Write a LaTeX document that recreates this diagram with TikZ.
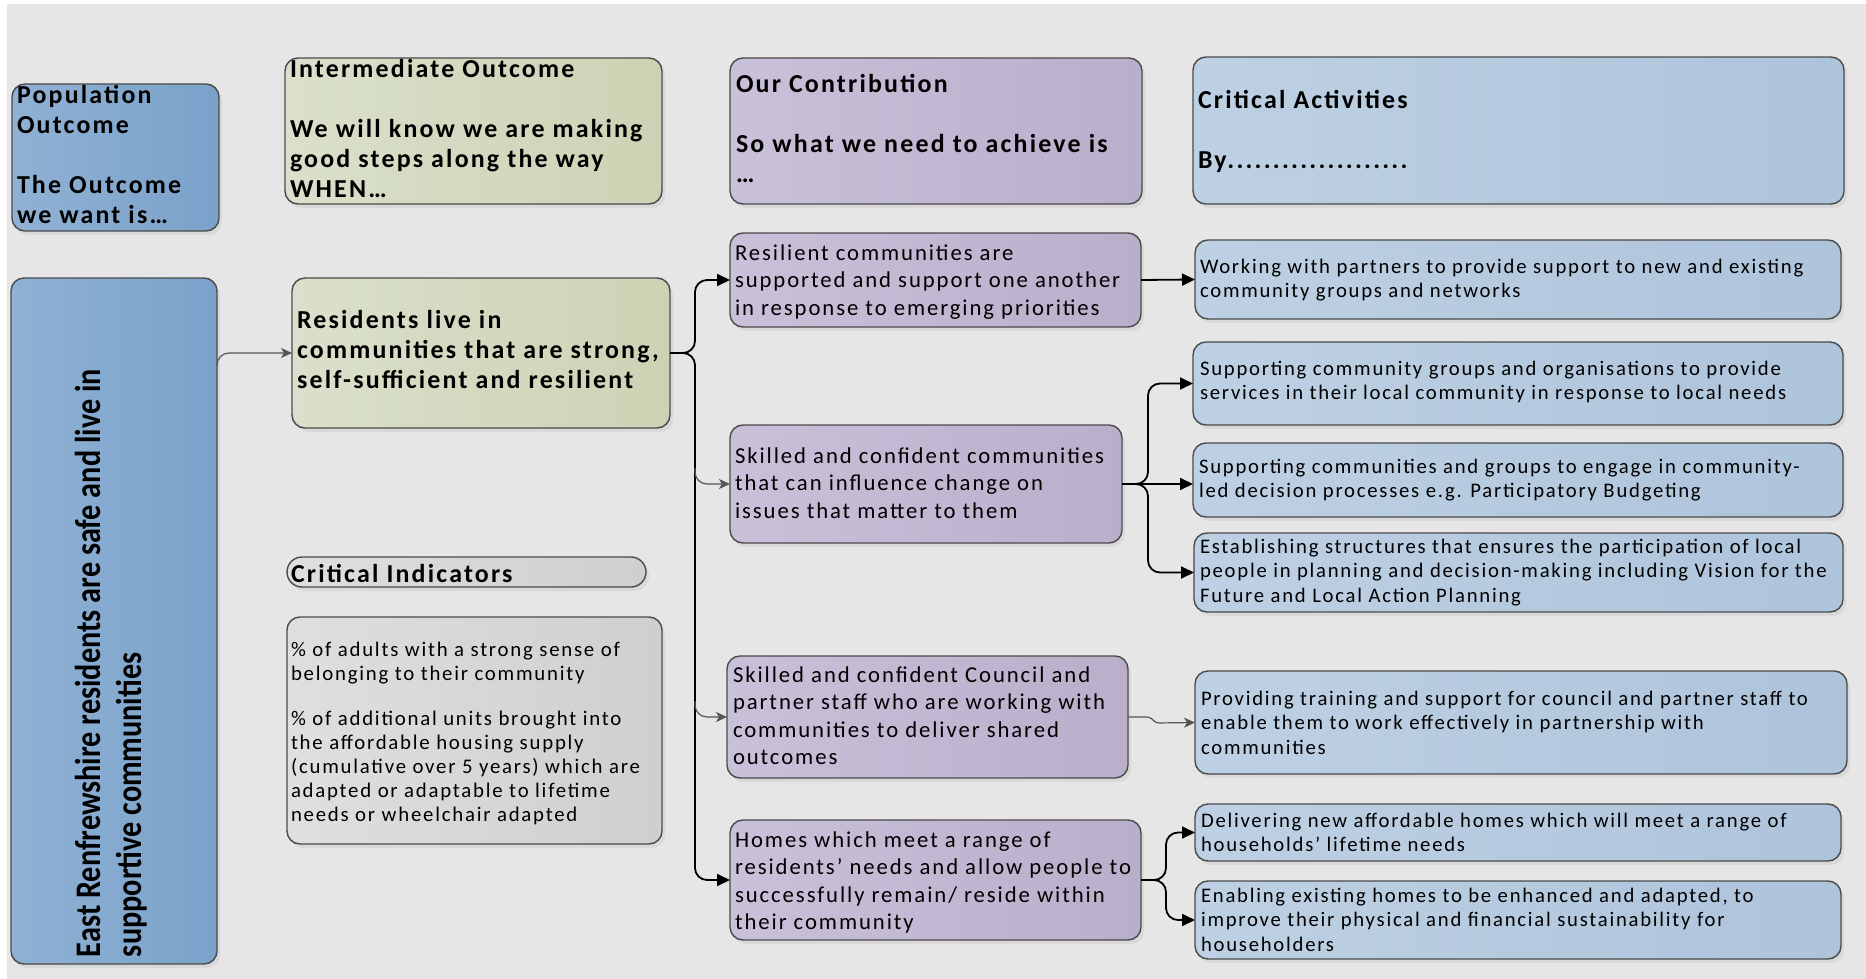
\documentclass[tikz,border=0pt]{standalone}
\usepackage{fontspec}
\usepackage{graphicx}
\setmainfont{Carlito}[LetterSpace=8.5]
\newfontfamily\plainfont{Carlito}
\usetikzlibrary{arrows.meta,shadows,calc}
\definecolor{bgc}{HTML}{E6E6E6}
\definecolor{boxline}{HTML}{4A4A4A}
\definecolor{arrowgray}{HTML}{555555}
\definecolor{blueA}{HTML}{90B1D4}
\definecolor{blueB}{HTML}{7AA2CA}
\definecolor{greenA}{HTML}{DAE0CB}
\definecolor{greenB}{HTML}{CCD3B4}
\definecolor{purpA}{HTML}{C9C0D9}
\definecolor{purpB}{HTML}{BAAFCB}
\definecolor{actA}{HTML}{BED0E3}
\definecolor{actB}{HTML}{AEC4DB}
\definecolor{grayA}{HTML}{DFDFDF}
\definecolor{grayB}{HTML}{CFCFCF}
\newcommand\tstrut{\rule{0pt}{0.75em}}
\newcommand\mybox[6]{\node[box,#2,minimum width={(#5-#3)*1pt},minimum height={(#6-#4)*1pt}] (#1) at (#3,#4) {};}
\tikzset{
  box/.style={draw=boxline, line width=1.4pt, rounded corners=13pt, anchor=north west,
    inner sep=0pt, outer sep=0pt,
    drop shadow={shadow xshift=3pt, shadow yshift=-4pt, opacity=0.12}},
  bluefill/.style={left color=blueA, right color=blueB},
  greenfill/.style={left color=greenA, right color=greenB},
  purpfill/.style={left color=purpA, right color=purpB},
  actfill/.style={left color=actA, right color=actB},
  grayfill/.style={left color=grayA, right color=grayB},
  tx/.style={anchor=north west, inner sep=0pt, outer sep=0pt, align=left, text=black},
  hdr/.style={tx, font=\bfseries\fontsize{25.9}{30}\selectfont},
  ptx/.style={tx, font=\fontsize{22.7}{27.5}\selectfont},
  atx/.style={tx, font=\fontsize{20.7}{24.5}\selectfont},
  itx/.style={tx, font=\fontsize{20.8}{24}\selectfont},
  blk/.style={draw=black, line width=1.8pt, -{Triangle[length=13pt,width=12pt]}, rounded corners=12pt},
  gry/.style={draw=arrowgray, line width=1.2pt, -{Stealth[length=11pt,width=10pt,inset=3pt]}, rounded corners=12pt},
}
\begin{document}
\begin{tikzpicture}[x=1pt,y=-1pt]
\useasboundingbox (0,0) rectangle (1866,979);
\fill[white] (0,0) rectangle (1866,979);
\fill[bgc] (7,4) rectangle (1866,979);

% boxes
\mybox{pop}{bluefill}{12}{84}{219}{231}
\mybox{inter}{greenfill}{285}{58}{662}{204}
\mybox{contrib}{purpfill}{730}{58}{1142}{204}
\mybox{crit}{actfill}{1193}{57}{1844}{204}
\mybox{main}{bluefill}{11}{278}{217}{964}
\mybox{res}{greenfill}{292}{278}{670}{428}
\node[box,grayfill,rounded corners=15pt,minimum width=359pt,minimum height=30pt] (pill) at (287,557) {};
\mybox{ind}{grayfill}{287}{617}{662}{844}
\mybox{resil}{purpfill}{730}{233}{1141}{327}
\mybox{skilled}{purpfill}{730}{425}{1122}{543}
\mybox{council}{purpfill}{727}{656}{1128}{778}
\mybox{homes}{purpfill}{730}{820}{1141}{940}
\mybox{work}{actfill}{1195}{240}{1841}{319}
\mybox{supa}{actfill}{1193}{342}{1843}{425}
\mybox{supb}{actfill}{1193}{443}{1843}{517}
\mybox{est}{actfill}{1194}{533}{1843}{612}
\mybox{prov}{actfill}{1195}{671}{1847}{774}
\mybox{deliv}{actfill}{1195}{804}{1841}{861}
\mybox{enab}{actfill}{1195}{881}{1841}{959}

% texts
\node[hdr] (popt) at (17,83.6) {\tstrut Population\\Outcome\\[30pt]The Outcome\\we want is\dots};
\node[hdr] (intert) at (290,57.6) {\tstrut Intermediate Outcome\\[30pt]We will know we are making\\good steps along the way\\WHEN\dots};
\node[hdr] (contribt) at (736,72.6) {\tstrut Our Contribution\\[30pt]So what we need to achieve is\\\dots};
\node[hdr] (critt) at (1198,88.6) {\tstrut Critical Activities\\[30pt]By....................};
\node[hdr] (rest) at (297,308.6) {\tstrut Residents live in\\communities that are strong,\\self-sufficient and resilient};
\node[hdr] (pillt) at (291,562.6) {\tstrut Critical Indicators};
\node[itx] (indt) at (291,640.9) {\tstrut\% of adults with a strong sense of\\belonging to their community\\[21pt]\% of additional units brought into\\the affordable housing supply\\(cumulative over 5 years) which are\\adapted or adaptable to lifetime\\needs or wheelchair adapted};
\node[tx, rotate=90, font=\plainfont\bfseries\fontsize{36}{41}\selectfont] (maint) at (73,957)
  {\scalebox{0.84}[1]{\tstrut East Renfrewshire residents are safe and live in}\\\scalebox{0.84}[1]{supportive communities}};

\node[ptx] (resilt) at (735,243) {\tstrut Resilient communities are\\supported and support one another\\in response to emerging priorities};
\node[ptx] (skilledt) at (735,446) {\tstrut Skilled and confident communities\\that can influence change on\\issues that matter to them};
\node[ptx] (councilt) at (733,665) {\tstrut Skilled and confident Council and\\partner staff who are working with\\communities to deliver shared\\outcomes};
\node[ptx] (homest) at (735,830) {\tstrut Homes which meet a range of\\residents’ needs and allow people to\\successfully remain/ reside within\\their community};

\node[atx] (workt) at (1200,257.5) {\tstrut Working with partners to provide support to new and existing\\community groups and networks};
\node[atx] (supat) at (1200,359.5) {\tstrut Supporting community groups and organisations to provide\\services in their local community in response to local needs};
\node[atx] (supbt) at (1199,457.5) {\tstrut Supporting communities and groups to engage in community-\\led decision processes e.g. Participatory Budgeting};
\node[atx] (estt) at (1200,537.5) {\tstrut Establishing structures that ensures the participation of local\\people in planning and decision-making including Vision for the\\Future and Local Action Planning};
\node[atx] (provt) at (1201,689.5) {\tstrut Providing training and support for council and partner staff to\\enable them to work effectively in partnership with\\communities};
\node[atx] (delivt) at (1201,811.5) {\tstrut Delivering new affordable homes which will meet a range of\\households’ lifetime needs};
\node[atx] (enabt) at (1201,886.5) {\tstrut Enabling existing homes to be enhanced and adapted, to\\improve their physical and financial sustainability for\\householders};

% connectors
\path (main.north east) ++(0,88) coordinate (mainout);
\coordinate (bus) at (695,353);
\coordinate (ja) at (1148,484);
\coordinate (jb) at (1166,880);
\path (bus |- skilled.west) ++(0,-16) coordinate (bs);
\path (bus |- council.west) ++(0,-16) coordinate (bc);

\draw[gry] (mainout) |- (res.west);
\draw[blk] (res.east) -| (bus |- resil.west) -- (resil.west);
\draw[blk] (res.east) -| (bus |- homes.west) -- (homes.west);
\draw[gry] (bs) |- (skilled.west);
\draw[gry] (bc) |- (council.west);
\draw[blk, rounded corners=0pt] (resil.east) -- (work.west);
\draw[blk] (skilled.east) -| (ja |- supa.west) -- (supa.west);
\draw[blk] (skilled.east) -| (ja |- est.west) -- (est.west);
\draw[blk, rounded corners=0pt] (skilled.east) -- (skilled.east -| supb.west);
\draw[gry, rounded corners=3pt] (council.east) -- ++(22,0) -- ++(6,6) -- (prov.west);
\draw[blk] (homes.east) -| (jb |- deliv.west) -- (deliv.west);
\draw[blk] (homes.east) -| (jb |- enab.west) -- (enab.west);
\end{tikzpicture}
\end{document}
